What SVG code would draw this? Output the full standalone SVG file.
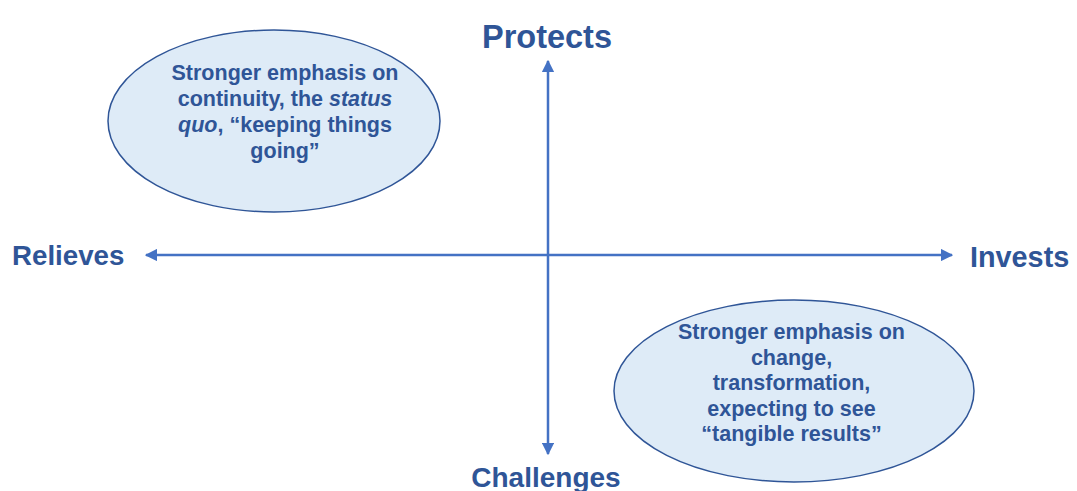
<svg xmlns="http://www.w3.org/2000/svg" width="1077" height="491" viewBox="0 0 1077 491">
<defs>
<style>
.lbl{font-family:"Liberation Sans",Arial,sans-serif;font-weight:bold;fill:#2F5597;}
.axis{font-size:28px;}
.body{font-size:21.5px;text-anchor:middle;}
.ell{fill:#DEEBF7;stroke:#2F5597;stroke-width:1.5;}
.ax{stroke:#4472C4;stroke-width:2.5;fill:none;}
</style>
<marker id="ah" viewBox="0 0 10 10" refX="9" refY="5" markerWidth="5" markerHeight="5" orient="auto-start-reverse" markerUnits="strokeWidth">
<path d="M0,0 L10,5 L0,10 z" fill="#4472C4"/>
</marker>
</defs>
<rect width="1077" height="491" fill="#FFFFFF"/>
<g id="connectors">
<line class="ax" x1="548" y1="454" x2="548" y2="61" marker-start="url(#ah)" marker-end="url(#ah)"/>
<line class="ax" x1="146" y1="255" x2="952" y2="255" marker-start="url(#ah)" marker-end="url(#ah)"/>
</g>
<g id="protects"><text class="lbl" x="547" y="48" text-anchor="middle" font-size="32.5">Protects</text></g>
<g id="challenges"><text class="lbl axis" x="546" y="487" text-anchor="middle">Challenges</text></g>
<g id="relieves"><text class="lbl" x="12" y="265" font-size="27.7">Relieves</text></g>
<g id="invests"><text class="lbl" x="970" y="267" font-size="28.8">Invests</text></g>
<g id="continuity">
<ellipse class="ell" cx="274" cy="121" rx="166" ry="91"/>
<text class="lbl body" x="285" y="80">Stronger emphasis on</text>
<text class="lbl body" x="285" y="106">continuity, the <tspan font-style="italic">status</tspan></text>
<text class="lbl body" x="285" y="132"><tspan font-style="italic">quo</tspan>, “keeping things</text>
<text class="lbl body" x="285" y="158">going”</text>
</g>
<g id="change">
<ellipse class="ell" cx="794" cy="391" rx="180" ry="91"/>
<text class="lbl body" x="791.5" y="339">Stronger emphasis on</text>
<text class="lbl body" x="791.5" y="364.5">change,</text>
<text class="lbl body" x="791.5" y="390">transformation,</text>
<text class="lbl body" x="791.5" y="415.5">expecting to see</text>
<text class="lbl body" x="791.5" y="441">“tangible results”</text>
</g>
</svg>
